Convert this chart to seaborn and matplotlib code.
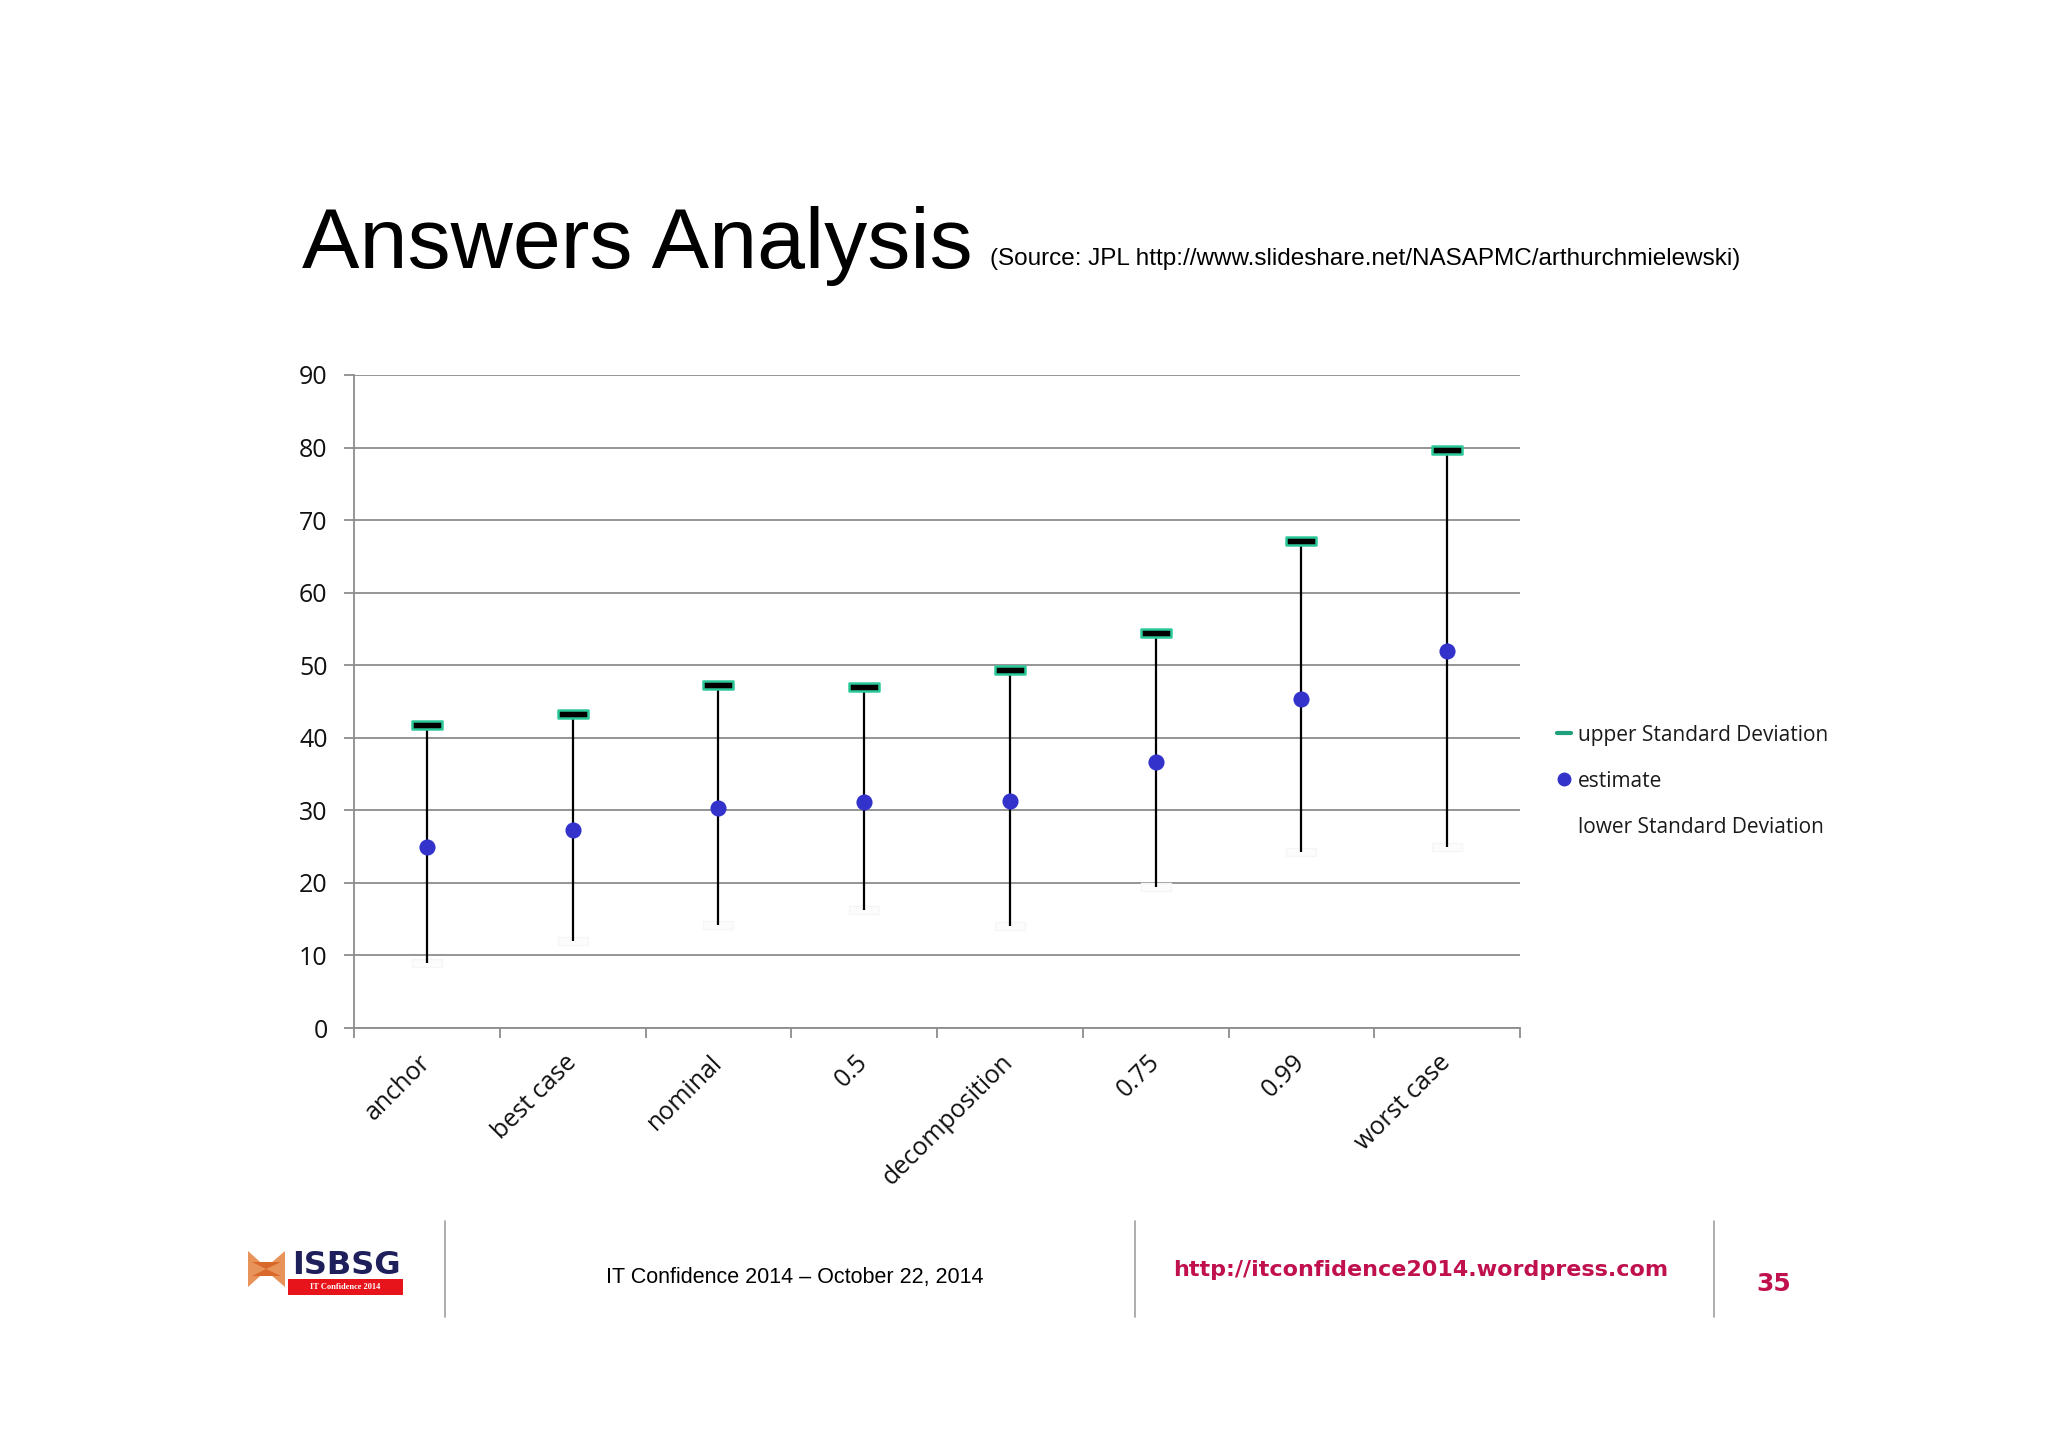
import numpy as np
import pandas as pd
import matplotlib
matplotlib.use("Agg")
import matplotlib.pyplot as plt
import seaborn as sns
from matplotlib.path import Path
from matplotlib.lines import Line2D
from matplotlib.patches import Polygon, Rectangle

# ---------------- data ----------------
categories = ["anchor", "best case", "nominal", "0.5", "decomposition", "0.75", "0.99", "worst case"]
upper_sd = [41.8, 43.3, 47.3, 47.0, 49.4, 54.5, 67.1, 79.7]
estimate = [25.0, 27.3, 30.3, 31.1, 31.3, 36.6, 45.3, 51.9]
lower_sd = [9.0, 12.0, 14.2, 16.2, 14.0, 19.4, 24.3, 25.0]
y_ticks = [0, 10, 20, 30, 40, 50, 60, 70, 80, 90]
legend_labels = ["upper Standard Deviation", "estimate", "lower Standard Deviation"]

title_text = "Answers Analysis"
subtitle_text = "(Source: JPL http://www.slideshare.net/NASAPMC/arthurchmielewski)"
footer_text = "IT Confidence 2014 \u2013 October 22, 2014"
footer_link = "http://itconfidence2014.wordpress.com"
page_number = "35"

df = pd.DataFrame({"category": categories, "upper": upper_sd,
                   "estimate": estimate, "lower": lower_sd})

# ---------------- style ----------------
sns.set_theme(style="white")
plt.rcParams["font.family"] = ["Open Sans", "DejaVu Sans"]

W, H = 2048, 1448
fig = plt.figure(figsize=(W / 100, H / 100), dpi=100, facecolor="white")


def fx(x):
    return x / W


def fy(y):
    return 1 - y / H


ax_left, ax_right, ax_top, ax_bottom = 354, 1520, 375, 1028
ax = fig.add_axes([fx(ax_left), fy(ax_bottom), (ax_right - ax_left) / W, (ax_bottom - ax_top) / H])
ax.set_facecolor("white")

GREEN = "#2DC99A"
BLUE = "#3333CC"
GRID = "#8C8C8C"

pos = np.arange(len(categories))

# high-low lines
ax.vlines(pos, df["lower"], df["upper"], color="black", linewidth=1.6, zorder=2)

# upper SD dash markers
dash = Path([(-1, -0.26), (1, -0.26), (1, 0.26), (-1, 0.26), (-1, -0.26)],
            [Path.MOVETO, Path.LINETO, Path.LINETO, Path.LINETO, Path.CLOSEPOLY])
sns.scatterplot(data=df, x="category", y="upper", marker=dash, s=480, color="black",
                edgecolor=GREEN, linewidth=1.8, ax=ax, zorder=4, legend=False)
# lower SD (nearly invisible)
sns.scatterplot(data=df, x="category", y="lower", marker=dash, s=480, color="#FCFCFC",
                edgecolor="#F6F6F6", linewidth=1.0, ax=ax, zorder=1, legend=False)
# estimates
sns.scatterplot(data=df, x="category", y="estimate", marker="o", s=135, color=BLUE,
                edgecolor=BLUE, linewidth=0, ax=ax, zorder=5, legend=False)

ax.set_xlim(-0.5, len(categories) - 0.5)
ax.set_ylim(0, 90)
ax.set_yticks(y_ticks)
ax.set_yticklabels([str(v) for v in y_ticks])
ax.yaxis.grid(True, color=GRID, linewidth=1.3)
ax.xaxis.grid(False)
ax.set_axisbelow(True)
for s in ["top", "right"]:
    ax.spines[s].set_visible(False)
for s in ["left", "bottom"]:
    ax.spines[s].set_color(GRID)
    ax.spines[s].set_linewidth(1.3)

ax.set_xlabel("")
ax.set_ylabel("")
ax.set_xticks(pos)
ax.set_xticklabels(categories, rotation=45, ha="right", va="center",
                   rotation_mode="anchor", fontsize=18, color="#111111")
ax.set_xticks(np.arange(len(categories) + 1) - 0.5, minor=True)
ax.tick_params(axis="x", which="major", length=0, pad=22)
ax.tick_params(axis="x", which="minor", length=7, width=1.3, color=GRID, bottom=True)
ax.tick_params(axis="y", which="major", length=7, width=1.3, color=GRID, left=True,
               pad=12, labelsize=18, labelcolor="#111111")

# legend
handles = [
    Line2D([0], [0], color="#1FA07A", linewidth=3),
    Line2D([0], [0], marker="o", color="none", markerfacecolor=BLUE,
           markeredgecolor=BLUE, markersize=9),
    Line2D([0], [0], color="none"),
]
leg = fig.legend(handles, legend_labels, loc="center left",
                 bbox_to_anchor=(fx(1557), fy(781)), frameon=False,
                 fontsize=15, handlelength=0.65, handletextpad=0.35,
                 labelspacing=1.2, borderpad=0, borderaxespad=0)
for t in leg.get_texts():
    t.set_color("#1A1A1A")

# title
fig.text(fx(302), fy(268), title_text, fontsize=62,
         family=["Liberation Sans", "DejaVu Sans"], color="black",
         ha="left", va="baseline")
fig.text(fx(990), fy(265), subtitle_text, fontsize=17.5,
         family=["Liberation Sans", "DejaVu Sans"], color="black",
         ha="left", va="baseline")

# footer separators
for xs in [445, 1135, 1714]:
    fig.add_artist(Line2D([fx(xs), fx(xs)], [fy(1221), fy(1317)],
                          transform=fig.transFigure, color="#A0A0A0", linewidth=1.2))

fig.text(fx(795), fy(1277), footer_text, fontsize=15.5,
         family=["Liberation Sans", "DejaVu Sans"], color="black",
         ha="center", va="center")
fig.text(fx(1421), fy(1270), footer_link, fontsize=16, fontweight="bold",
         family=["DejaVu Sans"], color="#C0104E", ha="center", va="center")
fig.text(fx(1774), fy(1284), page_number, fontsize=18, fontweight="bold",
         family=["DejaVu Sans"], color="#C0104E", ha="center", va="center")

# logo
tf = fig.transFigure
fig.add_artist(Polygon([(fx(248), fy(1251)), (fx(268), fy(1269)), (fx(248), fy(1287))],
                       closed=True, transform=tf, facecolor="#E8935A", edgecolor="none"))
fig.add_artist(Polygon([(fx(285), fy(1251)), (fx(264), fy(1269)), (fx(285), fy(1287))],
                       closed=True, transform=tf, facecolor="#E8935A", edgecolor="none"))
fig.add_artist(Polygon([(fx(252), fy(1262)), (fx(266), fy(1269)), (fx(252), fy(1276)),
                        (fx(281), fy(1276)), (fx(266), fy(1269)), (fx(281), fy(1262))],
                       closed=True, transform=tf, facecolor="#D9692B", edgecolor="none"))
fig.text(fx(292), fy(1265), "ISBSG", fontsize=23, fontweight="bold",
         family=["DejaVu Sans"], color="#1F1F5C", ha="left", va="center")
fig.add_artist(Rectangle((fx(288), fy(1295)), fx(403) - fx(288), fy(1279) - fy(1295),
                         transform=tf, facecolor="#E8141C", edgecolor="none"))
fig.text(fx(345), fy(1287), "IT Confidence 2014", fontsize=6, fontweight="bold",
         family=["Liberation Serif", "DejaVu Serif"], color="white",
         ha="center", va="center")

fig.savefig("out.png", dpi=100, facecolor="white")
